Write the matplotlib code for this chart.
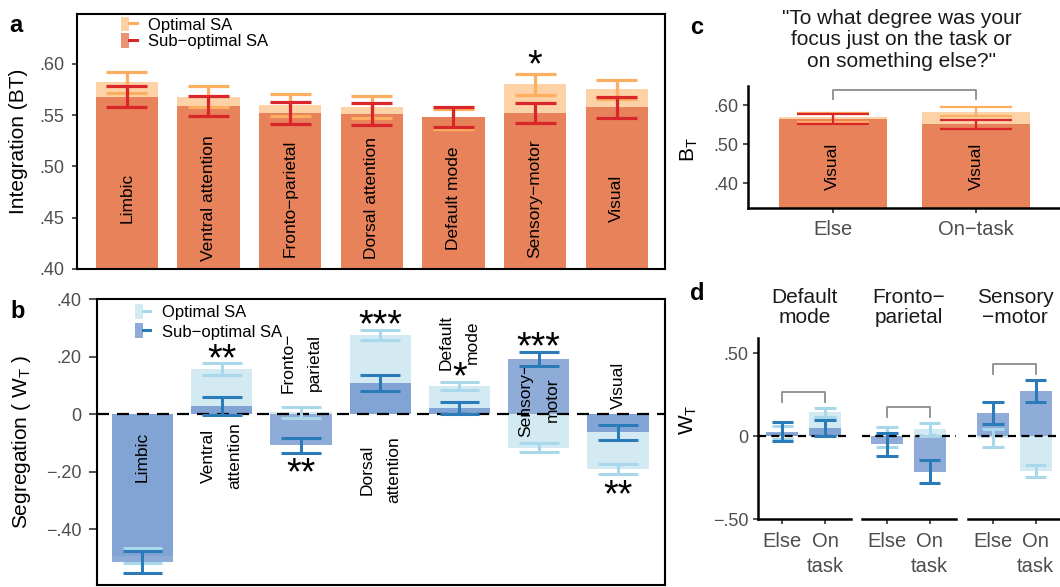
import matplotlib
matplotlib.use("Agg")
import numpy as np
import matplotlib.pyplot as plt
import matplotlib.transforms as mtransforms
from matplotlib.patches import Patch
from matplotlib.lines import Line2D
from matplotlib.legend_handler import HandlerTuple

plt.rcParams['font.family'] = ['Liberation Sans', 'DejaVu Sans']
plt.rcParams['mathtext.default'] = 'regular'

# ---------------- data ----------------
series = ['Optimal SA', 'Sub−optimal SA']

# panel a: integration (B_T) per network
networks_a = ['Limbic', 'Ventral attention', 'Fronto−parietal', 'Dorsal attention',
              'Default mode', 'Sensory−motor', 'Visual']
int_opt = [0.582, 0.568, 0.560, 0.558, 0.546, 0.580, 0.575]
int_opt_err = [0.010, 0.0105, 0.0105, 0.0105, 0.010, 0.0103, 0.0095]
int_sub = [0.568, 0.559, 0.552, 0.551, 0.548, 0.552, 0.5576]
int_sub_err = [0.0105, 0.010, 0.0104, 0.0104, 0.010, 0.010, 0.010]
int_stars = ['', '', '', '', '', '*', '']
int_ticks = [0.40, 0.45, 0.50, 0.55, 0.60]
int_ticklabels = ['.40', '.45', '.50', '.55', '.60']

# panel b: segregation (W_T) per network
networks_b = ['Limbic', 'Ventral\nattention', 'Fronto−\nparietal', 'Dorsal\nattention',
              'Default\nmode', 'Sensory−\nmotor', 'Visual']
seg_opt = [-0.492, 0.156, 0.006, 0.275, 0.098, -0.1165, -0.191]
seg_opt_err = [0.026, 0.020, 0.018, 0.018, 0.0145, 0.0155, 0.0175]
seg_sub = [-0.515, 0.029, -0.109, 0.108, 0.020, 0.192, -0.063]
seg_sub_err = [0.039, 0.031, 0.025, 0.027, 0.021, 0.024, 0.026]
seg_stars = ['', '**', '**', '***', '*', '***', '**']
seg_star_side = [0, 1, -1, 1, 1, 1, -1]
seg_label_y = [-0.15, -0.145, 0.178, -0.194, 0.25, 0.05, 0.10]
seg_ticks = [-0.4, -0.2, 0.0, 0.2, 0.4]
seg_ticklabels = ['−.40', '−.20', '0', '.20', '.40']

# panel c: visual network B_T by focus
focus_c = ['Else', 'On−task']
c_opt = [0.569, 0.583]
c_opt_err = [0.011, 0.011]
c_sub = [0.565, 0.551]
c_sub_err = [0.012, 0.012]
c_ticks = [0.40, 0.50, 0.60]
c_ticklabels = ['.40', '.50', '.60']

# panel d: W_T by focus for three networks
networks_d = ['Default\nmode', 'Fronto−\nparietal', 'Sensory\n−motor']
focus_d = ['Else', 'On\ntask']
d_opt = [[0.020, 0.143], [-0.005, 0.040], [-0.012, -0.212]]
d_opt_err = [[0.040, 0.028], [0.060, 0.040], [0.052, 0.035]]
d_sub = [[0.027, 0.048], [-0.050, -0.215], [0.137, 0.272]]
d_sub_err = [[0.057, 0.048], [0.070, 0.070], [0.066, 0.065]]
d_ticks = [-0.5, 0.0, 0.5]
d_ticklabels = ['−.50', '0', '.50']

# ---------------- style ----------------
OR_LIGHT = '#FDD2A6'
OR_DARK = '#E8825A'
ERR_OR = '#FDAE61'
ERR_RED = '#D9262B'
BL_LIGHT = '#D3EAF3'
BL_DARK = '#5A84C6'
BL_ALPHA = 0.68
ERR_LB = '#A8D8EA'
ERR_DB = '#2B7BB9'
TICK_COL = '#4D4D4D'
BRACKET = '#8C8C8C'

W, H = 1060, 587
fig = plt.figure(figsize=(W / 100, H / 100), dpi=100)


def px_axes(x0, y0, x1, y1):
    return fig.add_axes([x0 / W, 1 - y1 / H, (x1 - x0) / W, (y1 - y0) / H])


def errbar(ax, x, m, e, color, lw, capw=0.5, z=4):
    x = np.asarray(x, float)
    m = np.asarray(m, float)
    e = np.asarray(e, float)
    ax.vlines(x, m - e, m + e, color=color, lw=lw, zorder=z)
    ax.hlines(m - e, x - capw / 2, x + capw / 2, color=color, lw=lw, zorder=z)
    ax.hlines(m + e, x - capw / 2, x + capw / 2, color=color, lw=lw, zorder=z)


def style_ticks(ax, size=13, length=3.6, pad=3.0):
    ax.tick_params(axis='both', colors='#333333', labelcolor=TICK_COL,
                   labelsize=size, length=length, width=1.2, pad=pad)


def star(ax, x, y, s, dy_px, size=27):
    # place asterisk glyph centre dy_px from y
    c = 0.50 * size * 100 / 72
    tr = mtransforms.offset_copy(ax.transData, fig=fig, x=0, y=dy_px - c, units='dots')
    ax.text(x, y, s, transform=tr, ha='center', va='baseline', fontsize=size, color='black')


# ---------------- panel a ----------------
axA = px_axes(77, 14, 665, 269)
xa = np.arange(len(networks_a))
axA.bar(xa, int_opt, width=0.76, color=OR_LIGHT, zorder=1)
axA.bar(xa, int_sub, width=0.76, color=OR_DARK, zorder=2)
errbar(axA, xa, int_opt, int_opt_err, ERR_OR, 2.3, z=3)
errbar(axA, xa, int_sub, int_sub_err, ERR_RED, 2.3, z=4)
axA.set_xlim(-0.61, 6.59)
axA.set_ylim(0.40, 0.6485)
axA.set_xticks([])
axA.set_yticks(int_ticks)
axA.set_yticklabels(int_ticklabels)
style_ticks(axA, length=3.6, pad=5.5)
for sp in axA.spines.values():
    sp.set_linewidth(1.5)
for i, name in enumerate(networks_a):
    axA.text(i, 0.469, name, rotation=90, ha='center', va='center', fontsize=12.5)
    if int_stars[i]:
        top = max(int_opt[i] + int_opt_err[i], int_sub[i] + int_sub_err[i])
        star(axA, i, top, int_stars[i], 16)
axA.set_ylabel('Integration (BT)', fontsize=15)
axA.yaxis.set_label_coords(-0.083, 0.5)
hA = [(Patch(facecolor=OR_LIGHT), Line2D([], [], color=ERR_OR, lw=2.2)),
      (Patch(facecolor=OR_DARK, alpha=0.85), Line2D([], [], color=ERR_RED, lw=2.2))]
axA.legend(hA, series, handler_map={tuple: HandlerTuple(ndivide=None)},
           loc='upper left', bbox_to_anchor=(121 / W, 1 - 17 / H), bbox_transform=fig.transFigure,
           frameon=False, fontsize=12, borderpad=0, borderaxespad=0, handlelength=0.95,
           handleheight=0.95, handletextpad=0.65, labelspacing=0.02)

# ---------------- panel b ----------------
axB = px_axes(97, 299, 665, 585)
xb = np.arange(len(networks_b))
axB.bar(xb, seg_opt, width=0.77, color=BL_LIGHT, zorder=1)
axB.bar(xb, seg_sub, width=0.77, color=BL_DARK, alpha=BL_ALPHA, zorder=2)
axB.axhline(0, color='black', lw=1.6, ls=(0, (5.4, 3.6)), zorder=2.5)
errbar(axB, xb, seg_opt, seg_opt_err, ERR_LB, 2.2, z=3)
errbar(axB, xb, seg_sub, seg_sub_err, ERR_DB, 2.2, z=4)
axB.set_xlim(-0.574, 6.593)
axB.set_ylim(-0.594, 0.40)
axB.set_xticks([])
axB.set_yticks(seg_ticks)
axB.set_yticklabels(seg_ticklabels)
style_ticks(axB, length=5.8, pad=5.5)
for sp in axB.spines.values():
    sp.set_linewidth(1.5)
for i, name in enumerate(networks_b):
    axB.text(i, seg_label_y[i], name, rotation=90, ha='center', va='center',
             fontsize=12.5, linespacing=1.95, multialignment='center')
    if seg_stars[i]:
        if seg_star_side[i] > 0:
            top = max(seg_opt[i] + seg_opt_err[i], seg_sub[i] + seg_sub_err[i])
            star(axB, i, top, seg_stars[i], 12)
        else:
            bot = min(seg_opt[i] - seg_opt_err[i], seg_sub[i] - seg_sub_err[i])
            star(axB, i, bot, seg_stars[i], -13)
axB.set_ylabel('Segregation ( W$_T$ )', fontsize=15)
axB.yaxis.set_label_coords(-0.112, 0.5)
hB = [(Patch(facecolor=BL_LIGHT), Line2D([], [], color=ERR_LB, lw=2.2)),
      (Patch(facecolor=BL_DARK, alpha=BL_ALPHA), Line2D([], [], color=ERR_DB, lw=2.2))]
axB.legend(hB, series, handler_map={tuple: HandlerTuple(ndivide=None)},
           loc='upper left', bbox_to_anchor=(135 / W, 1 - 304 / H), bbox_transform=fig.transFigure,
           frameon=False, fontsize=12, borderpad=0, borderaxespad=0, handlelength=0.9,
           handleheight=1.0, handletextpad=0.75, labelspacing=0.2)

# ---------------- panel c ----------------
axC = px_axes(747.7, 86, 1062, 207.7)
xc = np.arange(len(focus_c))
axC.bar(xc, c_opt, width=0.75, color=OR_LIGHT, zorder=1)
axC.bar(xc, c_sub, width=0.75, color=OR_DARK, zorder=2)
errbar(axC, xc, c_opt, c_opt_err, ERR_OR, 1.6, z=3)
errbar(axC, xc, c_sub, c_sub_err, ERR_RED, 1.6, z=4)
axC.set_xlim(-0.594, 1.6)
axC.set_ylim(0.3375, 0.649)
axC.set_xticks(xc)
axC.set_xticklabels(focus_c)
axC.set_yticks(c_ticks)
axC.set_yticklabels(c_ticklabels)
style_ticks(axC)
axC.tick_params(axis='x', labelsize=14.5, pad=5.5)
for s in ['top', 'right']:
    axC.spines[s].set_visible(False)
for s in ['left', 'bottom']:
    axC.spines[s].set_linewidth(1.8)
for i in xc:
    axC.text(i, 0.4426, 'Visual', rotation=90, ha='center', va='center', fontsize=12.5)
c_top = max(max(np.add(c_opt, c_opt_err)), max(np.add(c_sub, c_sub_err))) + 0.045
axC.plot([0, 0, 1, 1], [c_top - 0.024, c_top, c_top, c_top - 0.024], color=BRACKET, lw=1.3,
         clip_on=False, zorder=5)
axC.set_ylabel('B$_T$', fontsize=15)
axC.yaxis.set_label_coords(-0.152, 0.48)
axC.text(0.49, 1.38, '"To what degree was your\nfocus just on the task or\non something else?"',
         transform=axC.transAxes, ha='center', va='center', fontsize=15, linespacing=1.15,
         color='#1A1A1A')

# ---------------- panel d ----------------
facet_x = [757.7, 862.3, 968.3]
xd = np.arange(len(focus_d))
for k, name in enumerate(networks_d):
    ax = px_axes(facet_x[k], 338.3, facet_x[k] + 93.5, 519)
    ax.bar(xd, d_opt[k], width=0.75, color=BL_LIGHT, zorder=1)
    ax.bar(xd, d_sub[k], width=0.75, color=BL_DARK, alpha=BL_ALPHA, zorder=2)
    ax.axhline(0, color='black', lw=1.6, ls=(0, (3.6, 2.4)), zorder=2.5)
    errbar(ax, xd, d_opt[k], d_opt_err[k], ERR_LB, 2.2, z=3)
    errbar(ax, xd, d_sub[k], d_sub_err[k], ERR_DB, 2.2, z=4)
    top = max(max(np.add(d_opt[k], d_opt_err[k])), max(np.add(d_sub[k], d_sub_err[k]))) + 0.095
    ax.plot([0, 0, 1, 1], [top - 0.06, top, top, top - 0.06], color=BRACKET, lw=1.3, zorder=5)
    ax.set_xlim(-0.58, 1.61)
    ax.set_ylim(-0.5, 0.59)
    ax.set_xticks(xd)
    ax.set_xticklabels(focus_d, linespacing=1.35)
    style_ticks(ax)
    ax.tick_params(axis='x', labelsize=14.5, pad=6)
    for s in ['top', 'right']:
        ax.spines[s].set_visible(False)
    ax.spines['bottom'].set_linewidth(1.8)
    if k == 0:
        ax.spines['left'].set_linewidth(1.8)
        ax.set_yticks(d_ticks)
        ax.set_yticklabels(d_ticklabels)
        ax.set_ylabel('W$_T$', fontsize=15)
        ax.yaxis.set_label_coords(-0.63, 0.55)
    else:
        ax.spines['left'].set_visible(False)
        ax.set_yticks([])
    ax.text(0.5, 1.17, name, transform=ax.transAxes, ha='center', va='center',
            fontsize=15, linespacing=1.05, color='#1A1A1A')

# ---------------- panel letters ----------------
for lab, (px, py) in {'a': (16, 26), 'b': (18, 312), 'c': (697, 27), 'd': (697, 294)}.items():
    fig.text(px / W, 1 - py / H, lab, fontsize=17, fontweight='bold', ha='center', va='center')

fig.savefig('out.png', dpi=100)
